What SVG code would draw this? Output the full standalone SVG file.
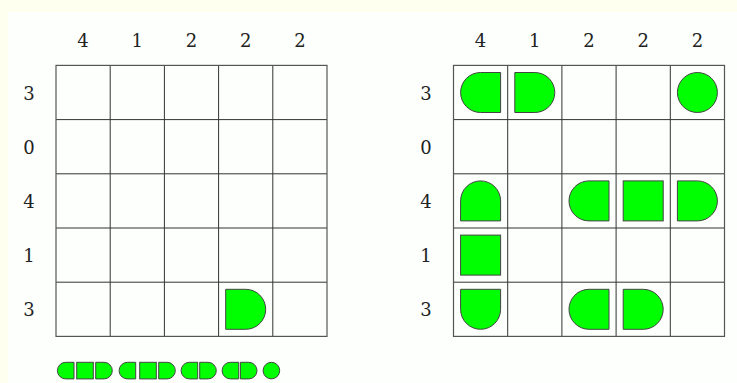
<svg xmlns="http://www.w3.org/2000/svg" xmlns:xlink="http://www.w3.org/1999/xlink" width="737" height="383" viewBox="0 0 737 383">
<style>
.lbl{font-family:"DejaVu Serif","Liberation Serif",serif;font-size:18px;fill:#222;text-anchor:middle}
.grid line{stroke:#333;stroke-width:1}
.grid rect{fill:none;stroke:#555;stroke-width:1.2}
.pc{fill:#00ff00;stroke:#444;stroke-width:1}
.lg{fill:#00ff00;stroke:#444;stroke-width:2.4}
</style>
<defs>
<path id="R" d="M-20,-20 H0 A20,20 0 0 1 0,20 H-20 Z"/>
<path id="L" d="M20,-20 H0 A20,20 0 0 0 0,20 H20 Z"/>
<path id="T" d="M-20,20 V0 A20,20 0 0 1 20,0 V20 Z"/>
<path id="B" d="M-20,-20 V0 A20,20 0 0 0 20,0 V-20 Z"/>
<rect id="S" x="-20" y="-20" width="40" height="40"/>
<circle id="C" r="20"/>
</defs>
<rect width="737" height="383" fill="#fffff0"/>
<rect x="8" y="12" width="729" height="371" fill="#fcfffc"/>

<g id="left-puzzle">
  <g id="left-col-labels" class="lbl">
    <text x="83.1" y="46.5">4</text><text x="137.3" y="46.5">1</text><text x="191.5" y="46.5">2</text><text x="245.7" y="46.5">2</text><text x="299.9" y="46.5">2</text>
  </g>
  <g id="left-row-labels" class="lbl">
    <text x="29" y="99.5">3</text><text x="29" y="153.7">0</text><text x="29" y="207.9">4</text><text x="29" y="262.1">1</text><text x="29" y="316.3">3</text>
  </g>
  <g id="left-grid" class="grid">
    <line x1="110.2" y1="65.4" x2="110.2" y2="336.4"/><line x1="164.4" y1="65.4" x2="164.4" y2="336.4"/><line x1="218.6" y1="65.4" x2="218.6" y2="336.4"/><line x1="272.8" y1="65.4" x2="272.8" y2="336.4"/>
    <line x1="56" y1="119.6" x2="327" y2="119.6"/><line x1="56" y1="173.8" x2="327" y2="173.8"/><line x1="56" y1="228" x2="327" y2="228"/><line x1="56" y1="282.2" x2="327" y2="282.2"/>
    <rect x="56" y="65.4" width="271" height="271"/>
  </g>
  <g id="left-pieces" class="pc">
    <use xlink:href="#R" href="#R" transform="translate(245.7,309.3)"/>
  </g>
</g>

<g id="right-puzzle">
  <g id="right-col-labels" class="lbl">
    <text x="480.6" y="46.5">4</text><text x="534.8" y="46.5">1</text><text x="589" y="46.5">2</text><text x="643.2" y="46.5">2</text><text x="697.4" y="46.5">2</text>
  </g>
  <g id="right-row-labels" class="lbl">
    <text x="426" y="99.5">3</text><text x="426" y="153.7">0</text><text x="426" y="207.9">4</text><text x="426" y="262.1">1</text><text x="426" y="316.3">3</text>
  </g>
  <g id="right-grid" class="grid">
    <line x1="507.7" y1="65.4" x2="507.7" y2="336.4"/><line x1="561.9" y1="65.4" x2="561.9" y2="336.4"/><line x1="616.1" y1="65.4" x2="616.1" y2="336.4"/><line x1="670.3" y1="65.4" x2="670.3" y2="336.4"/>
    <line x1="453.5" y1="119.6" x2="724.5" y2="119.6"/><line x1="453.5" y1="173.8" x2="724.5" y2="173.8"/><line x1="453.5" y1="228" x2="724.5" y2="228"/><line x1="453.5" y1="282.2" x2="724.5" y2="282.2"/>
    <rect x="453.5" y="65.4" width="271" height="271"/>
  </g>
  <g id="right-pieces" class="pc">
    <use href="#L" transform="translate(480.6,92.5)"/>
    <use href="#R" transform="translate(534.8,92.5)"/>
    <use href="#C" transform="translate(697.4,92.5)"/>
    <use href="#T" transform="translate(480.6,200.9)"/>
    <use href="#L" transform="translate(589,200.9)"/>
    <use href="#S" transform="translate(643.2,200.9)"/>
    <use href="#R" transform="translate(697.4,200.9)"/>
    <use href="#S" transform="translate(480.6,255.1)"/>
    <use href="#B" transform="translate(480.6,309.3)"/>
    <use href="#L" transform="translate(589,309.3)"/>
    <use href="#R" transform="translate(643.2,309.3)"/>
  </g>
</g>

<g id="legend" class="lg">
  <g id="piece-1">
    <use href="#L" transform="translate(65.7,370.6) scale(0.415)"/>
    <use href="#S" transform="translate(85,370.6) scale(0.415)"/>
    <use href="#R" transform="translate(104,370.6) scale(0.415)"/>
  </g>
  <g id="piece-2">
    <use href="#L" transform="translate(127.4,370.6) scale(0.415)"/>
    <use href="#S" transform="translate(148,370.6) scale(0.415)"/>
    <use href="#R" transform="translate(167,370.6) scale(0.415)"/>
  </g>
  <g id="piece-3">
    <use href="#L" transform="translate(189.4,370.6) scale(0.415)"/>
    <use href="#R" transform="translate(208,370.6) scale(0.415)"/>
  </g>
  <g id="piece-4">
    <use href="#L" transform="translate(230.4,370.6) scale(0.415)"/>
    <use href="#R" transform="translate(248.7,370.6) scale(0.415)"/>
  </g>
  <g id="piece-5">
    <use href="#C" transform="translate(271.4,370.6) scale(0.415)"/>
  </g>
</g>
</svg>
